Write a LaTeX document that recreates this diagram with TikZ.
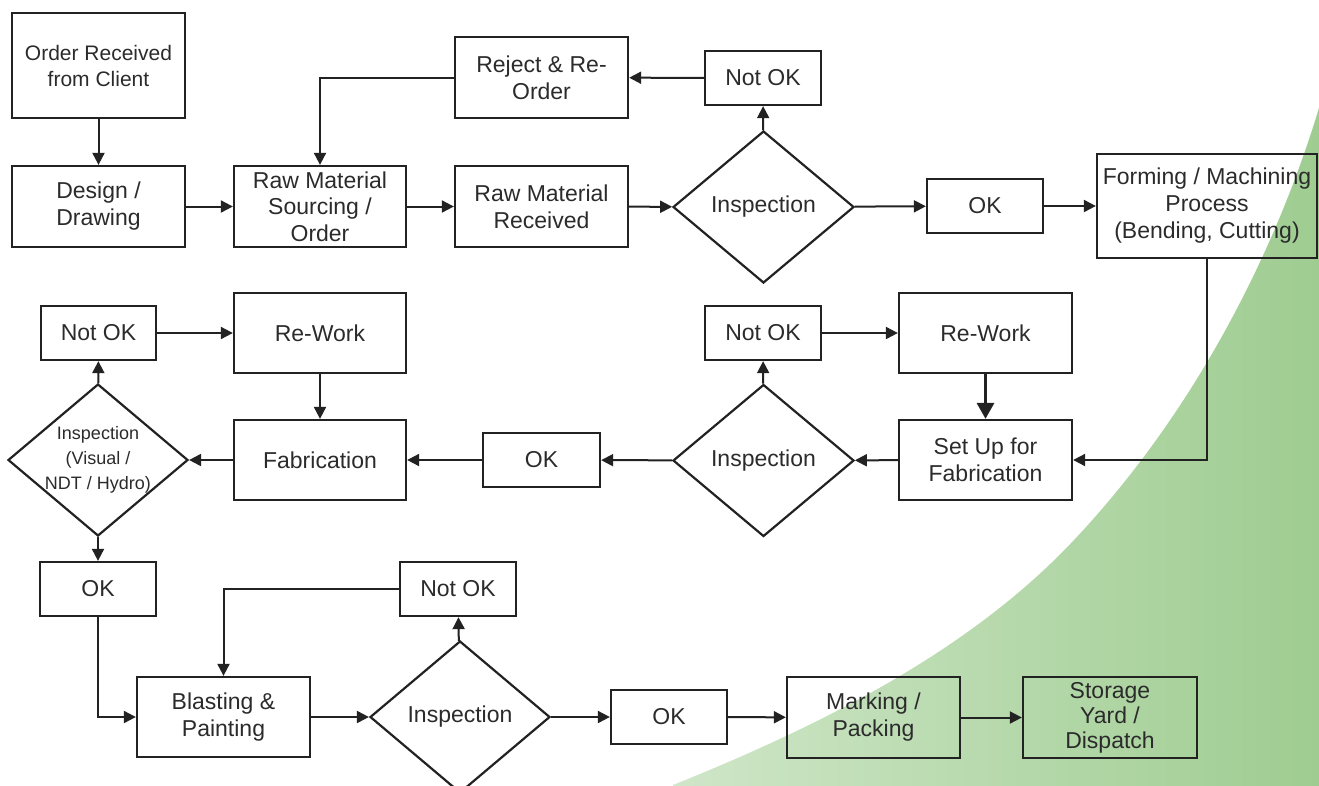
\documentclass[tikz,border=0pt]{standalone}
\usepackage{fontspec}
\setmainfont{Liberation Sans}
\usetikzlibrary{shapes.geometric,arrows.meta}
\definecolor{linec}{HTML}{222222}
\definecolor{txtc}{HTML}{2B2B2B}
\definecolor{gLight}{HTML}{CFE6C8}
\definecolor{gDark}{HTML}{9ECC90}
\tikzset{
  box/.style={draw=linec, line width=2.3pt, rectangle, inner sep=0pt, align=center, text=txtc, font=\fontsize{23}{27}\selectfont},
  dia/.style={draw=linec, line width=2.2pt, diamond, inner sep=0pt, minimum width=181pt, minimum height=152pt, aspect=1.19, align=center, text=txtc, font=\fontsize{23}{27}\selectfont},
  conn/.style={draw=linec, line width=2pt, -{Triangle[length=12pt,width=12pt]}},
  thickconn/.style={draw=linec, line width=3.3pt, -{Triangle[length=16pt,width=17pt]}},
}
\begin{document}
\begin{tikzpicture}[x=1pt,y=-1pt]
\useasboundingbox (0,0) rectangle (1319,785);
\clip (0,0) rectangle (1319,785);
\shade[left color=gLight, right color=gDark]
  (673,785) .. controls (817,727) and (968,653) .. (1074,540)
  .. controls (1187,420) and (1271,266) .. (1319,108)
  -- (1330,108) -- (1330,790) -- (673,790) -- cycle;

% row 1
\node[box, minimum width=173pt, minimum height=105pt, font=\fontsize{21}{26}\selectfont] (order) at (98.5,65.5) {Order Received\\from Client};
\node[box, minimum width=173pt, minimum height=81pt] (design) at (98.5,206.5) {Design /\\Drawing};
\node[box, minimum width=172pt, minimum height=81pt, font=\fontsize{23}{26.5}\selectfont] (src) at (320,206.5) {Raw Material\\Sourcing /\\Order};
\node[box, minimum width=173pt, minimum height=81pt] (recv) at (541.5,206.5) {Raw Material\\Received};
\node[box, minimum width=173pt, minimum height=81pt] (reject) at (541.5,77.5) {Reject \& Re-\\Order};
\node[box, minimum width=116pt, minimum height=54pt] (nokT) at (763,78) {Not OK};
\node[dia] (insp1) at (763.5,207) {Inspection};
\node[box, minimum width=116pt, minimum height=54pt] (okT) at (985,206) {OK};
\node[box, minimum width=220pt, minimum height=104pt] (form) at (1207,206) {Forming / Machining\\Process\\(Bending, Cutting)};

% row 2
\node[box, minimum width=115pt, minimum height=54pt] (nokL) at (98.5,333) {Not OK};
\node[box, minimum width=172pt, minimum height=80pt] (rwL) at (320,333) {Re-Work};
\node[box, minimum width=172pt, minimum height=80pt] (fab) at (320,460) {Fabrication};
\node[dia, minimum width=180pt, inner sep=-4pt, font=\fontsize{18}{25}\selectfont] (inspV) at (98,460) {Inspection\\(Visual /\\NDT / Hydro)};
\node[box, minimum width=117pt, minimum height=54pt] (okM) at (541.5,460) {OK};
\node[dia] (insp2) at (763.5,460.5) {Inspection};
\node[box, minimum width=116pt, minimum height=54pt] (nokM) at (763,333) {Not OK};
\node[box, minimum width=173pt, minimum height=80pt] (rwR) at (985.5,333) {Re-Work};
\node[box, minimum width=173pt, minimum height=80pt] (setup) at (985.5,460) {Set Up for\\Fabrication};

% row 3
\node[box, minimum width=116pt, minimum height=54pt] (okL) at (98,589) {OK};
\node[box, minimum width=116pt, minimum height=54pt] (nokB) at (458,589) {Not OK};
\node[box, minimum width=173pt, minimum height=80pt] (blast) at (223.5,717) {Blasting \&\\Painting};
\node[dia, minimum width=180pt] (insp3) at (460,717) {Inspection};
\node[box, minimum width=116pt, minimum height=54pt] (okB) at (669,717) {OK};
\node[box, minimum width=173pt, minimum height=81pt] (mark) at (873.5,717.5) {Marking /\\Packing};
\node[box, minimum width=174pt, minimum height=81pt, font=\fontsize{23}{25}\selectfont] (store) at (1110,717.5) {Storage\\Yard /\\Dispatch};

% connectors row 1
\draw[conn] (order) -- (design);
\draw[conn] (design) -- (src);
\draw[conn] (src) -- (recv);
\draw[conn] (recv) -- (insp1);
\draw[conn] (insp1) -- (nokT);
\draw[conn] (nokT) -- (reject);
\draw[conn] (reject.west) -| (src.north);
\draw[conn] (insp1) -- (okT);
\draw[conn] (okT) -- (form);
\draw[conn] (form.south) |- (setup.east);

% row 2
\draw[conn] (setup) -- (insp2);
\draw[conn] (insp2) -- (nokM);
\draw[conn] (nokM) -- (rwR);
\draw[thickconn] (rwR) -- (setup);
\draw[conn] (insp2) -- (okM);
\draw[conn] (okM) -- (fab);
\draw[conn] (fab) -- (inspV);
\draw[conn] (inspV) -- (nokL);
\draw[conn] (nokL) -- (rwL);
\draw[conn] (rwL) -- (fab);
\draw[conn] (inspV) -- (okL);

% row 3
\draw[conn] (okL.south) |- (blast.west);
\draw[conn] (blast) -- (insp3);
\draw[conn] (insp3) -- (nokB);
\draw[conn] (nokB.west) -| (blast.north);
\draw[conn] (insp3) -- (okB);
\draw[conn] (okB) -- (mark);
\draw[conn] (mark) -- (store);
\end{tikzpicture}
\end{document}
